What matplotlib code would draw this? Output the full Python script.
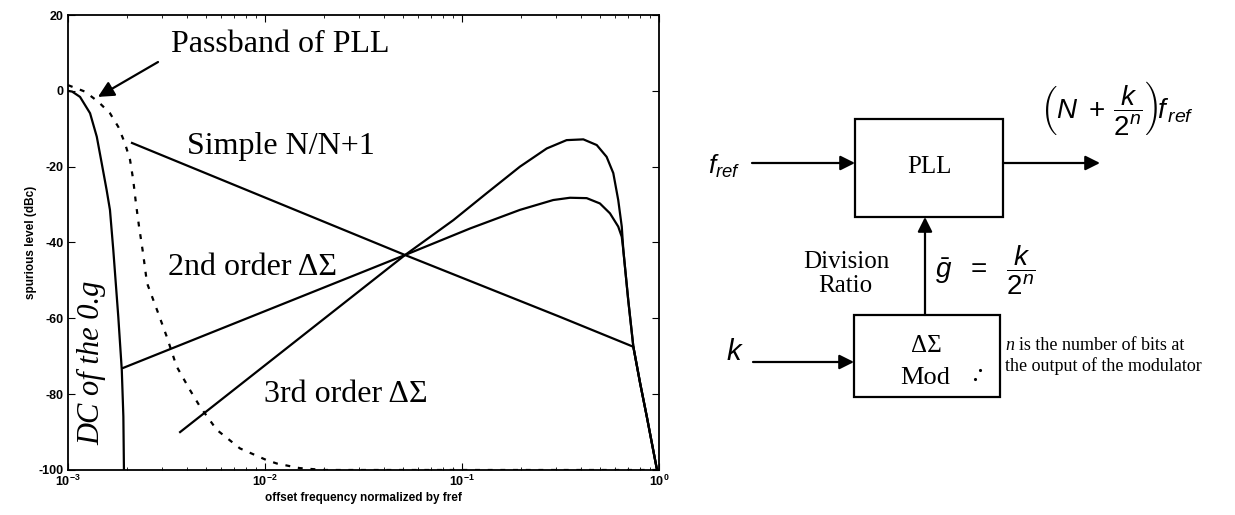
import matplotlib.pyplot as plt
from matplotlib.patches import Rectangle
from matplotlib.ticker import LogLocator, NullFormatter

plt.rcParams['font.family'] = 'Liberation Sans'
plt.rcParams['mathtext.fontset'] = 'custom'
plt.rcParams['mathtext.it'] = 'Liberation Sans:italic'
plt.rcParams['mathtext.rm'] = 'Liberation Sans'
plt.rcParams['mathtext.bf'] = 'Liberation Sans:bold'

# offset frequency (normalized by fref) vs spurious level (dBc)
f_dc = [1.0e-3, 1.05e-3, 1.151e-3, 1.294e-3, 1.40e-3, 1.483e-3, 1.57e-3,
        1.633e-3, 1.698e-3, 1.80e-3, 1.875e-3, 1.91e-3, 1.923e-3]
spur_dc = [0.0, -0.2, -1.6, -5.9, -12.1, -19.1, -26.1,
           -31.4, -42.0, -59.6, -73.6, -85.9, -100.0]

f_pll = [1.0e-3, 1.219e-3, 1.426e-3, 1.633e-3, 1.80e-3, 1.945e-3, 2.065e-3,
         2.143e-3, 2.213e-3, 2.29e-3, 2.404e-3, 2.518e-3, 2.831e-3, 3.17e-3,
         3.56e-3, 4.16e-3, 4.68e-3, 5.69e-3, 7.46e-3, 1.02e-2, 1.15e-2,
         1.5e-2, 2.0e-2, 1.0]
spur_pll = [1.5, -0.2, -2.9, -5.9, -9.5, -13.8, -18.2,
            -23.5, -29.7, -35.5, -42.8, -50.7, -57.8, -64.8,
            -72.7, -78.9, -83.3, -89.4, -94.3, -97.4, -98.3,
            -99.5, -100.0, -100.0]

f_simple = [2.113e-3, 5.14e-2, 0.314, 0.741, 0.802, 0.867, 0.973, 0.985]
spur_simple = [-13.75, -43.3, -59.6, -67.5, -77.1, -85.9, -99.5, -100.0]

f_ds2 = [1.901e-3, 5.14e-2, 0.1099, 0.1968, 0.2904, 0.3532, 0.4295, 0.5012,
         0.5636, 0.6209, 0.6471, 0.659, 0.698, 0.741, 0.802, 0.867, 0.973, 0.985]
spur_ds2 = [-73.1, -43.3, -36.3, -31.4, -28.8, -28.2, -28.3, -29.7,
            -32.3, -35.8, -38.5, -42.0, -55.2, -67.5, -77.1, -85.9, -99.5, -100.0]

f_ds3 = [3.707e-3, 5.14e-2, 0.0904, 0.1334, 0.1968, 0.2692, 0.3396, 0.4130,
         0.4831, 0.5420, 0.5861, 0.6209, 0.6471, 0.659, 0.698, 0.741, 0.802,
         0.867, 0.973, 0.985]
spur_ds3 = [-90.0, -43.3, -34.1, -27.0, -20.0, -15.2, -13.0, -12.8,
            -14.3, -17.4, -21.7, -28.8, -35.8, -42.0, -55.2, -67.5, -77.1,
            -85.9, -99.5, -100.0]

yticks = [-100, -80, -60, -40, -20, 0, 20]
xticks = [1e-3, 1e-2, 1e-1, 1e0]
xtick_labels = [r'$\mathbf{10^{-3}}$', r'$\mathbf{10^{-2}}$',
                r'$\mathbf{10^{-1}}$', r'$\mathbf{10^{0}}$']

W, H = 1235, 515
fig = plt.figure(figsize=(W / 100, H / 100), dpi=100)
ax = fig.add_axes([68 / W, 45 / H, 591 / W, 455 / H])

lw = 1.6
ax.plot(f_dc, spur_dc, color='k', lw=lw)
ax.plot(f_pll, spur_pll, color='k', lw=lw, ls=(0, (2.2, 3.5)))
ax.plot(f_simple, spur_simple, color='k', lw=lw)
ax.plot(f_ds2, spur_ds2, color='k', lw=lw)
ax.plot(f_ds3, spur_ds3, color='k', lw=lw)

ax.set_xscale('log')
ax.set_xlim(1e-3, 1)
ax.set_ylim(-100, 20)
ax.set_xticks(xticks)
ax.set_xticklabels(xtick_labels, fontsize=9)
ax.xaxis.set_minor_locator(LogLocator(subs=range(2, 10)))
ax.xaxis.set_minor_formatter(NullFormatter())
ax.set_yticks(yticks)
ax.set_yticklabels([str(v) for v in yticks], fontsize=9, fontweight='bold')
ax.tick_params(which='major', direction='in', length=5, top=True, right=True, pad=3)
ax.tick_params(which='minor', direction='in', length=2.5, top=True, right=True)
for s in ax.spines.values():
    s.set_linewidth(1.3)
ax.set_xlabel('offset frequency normalized by fref', fontsize=8.5,
              fontweight='bold', labelpad=2)
ax.set_ylabel('spurious level (dBc)', fontsize=8.5, fontweight='bold', labelpad=1)

serif = 'Liberation Serif'
ax.annotate('', xy=(1.419e-3, -1.6), xytext=(2.864e-3, 7.6),
            arrowprops=dict(arrowstyle='-|>', color='k', lw=1.6,
                            mutation_scale=24, shrinkA=0, shrinkB=0))
ax.text(1.19e-2, 12.1, 'Passband of PLL', family=serif, fontsize=23,
        ha='center', va='center')
ax.text(1.205e-2, -14.8, 'Simple N/N+1', family=serif, fontsize=23,
        ha='center', va='center')
ax.text(8.69e-3, -46.5, '2nd order ΔΣ', family=serif, fontsize=23,
        ha='center', va='center')
ax.text(2.58e-2, -80.2, '3rd order ΔΣ', family=serif, fontsize=23,
        ha='center', va='center')
ax.text(1.324e-3, -71.8, 'DC of the 0.g', family=serif, style='italic',
        fontsize=22, rotation=90, ha='center', va='center')

# block diagram, laid out in pixel units
bd = fig.add_axes([0, 0, 1, 1])
bd.set_xlim(0, W)
bd.set_ylim(H, 0)
bd.axis('off')
bd.patch.set_visible(False)

arrow = dict(arrowstyle='-|>', color='k', lw=1.6, mutation_scale=22,
             shrinkA=0, shrinkB=0)

bd.add_patch(Rectangle((855, 119), 148, 98, fill=False, lw=1.6, ec='k'))
bd.text(929, 167, 'PLL', family=serif, fontsize=18, ha='center', va='center')

bd.add_patch(Rectangle((854, 315), 146, 82, fill=False, lw=1.6, ec='k'))
bd.text(926, 346, 'ΔΣ', family=serif, fontsize=18, ha='center', va='center')
bd.text(925, 378, 'Mod', family=serif, fontsize=19, ha='center', va='center')
bd.plot([975, 980], [379, 370], 'k.', ms=2.5)

bd.text(740, 166, r'$f_{ref}$', fontsize=19, ha='right', va='center')
bd.annotate('', xy=(855, 163), xytext=(752, 163), arrowprops=arrow)
bd.annotate('', xy=(1100, 163), xytext=(1003, 163), arrowprops=arrow)
bd.text(1040, 108, r'$\left(N\ +\,\dfrac{k}{2^n}\right)\!f_{\,ref}$', fontsize=20,
        ha='left', va='center')

bd.annotate('', xy=(925, 217), xytext=(925, 315), arrowprops=arrow)
bd.text(846, 268, 'Division', family=serif, fontsize=18, ha='center', va='baseline')
bd.text(845, 292, 'Ratio', family=serif, fontsize=18, ha='center', va='baseline')
bd.text(935, 270, r'$\bar{g}\ \ =\ \ \dfrac{k}{2^n}$', fontsize=20,
        ha='left', va='center')

bd.text(735, 352, r'$k$', fontsize=21, ha='center', va='center')
bd.annotate('', xy=(854, 362), xytext=(753, 362), arrowprops=arrow)

bd.text(1005, 345, 'n', family=serif, style='italic', fontsize=13,
        ha='left', va='center')
bd.text(1019, 345, 'is the number of bits at', family=serif, fontsize=13,
        ha='left', va='center')
bd.text(1005, 366, 'the output of the modulator', family=serif, fontsize=13,
        ha='left', va='center')

fig.savefig('out.png', dpi=100)
